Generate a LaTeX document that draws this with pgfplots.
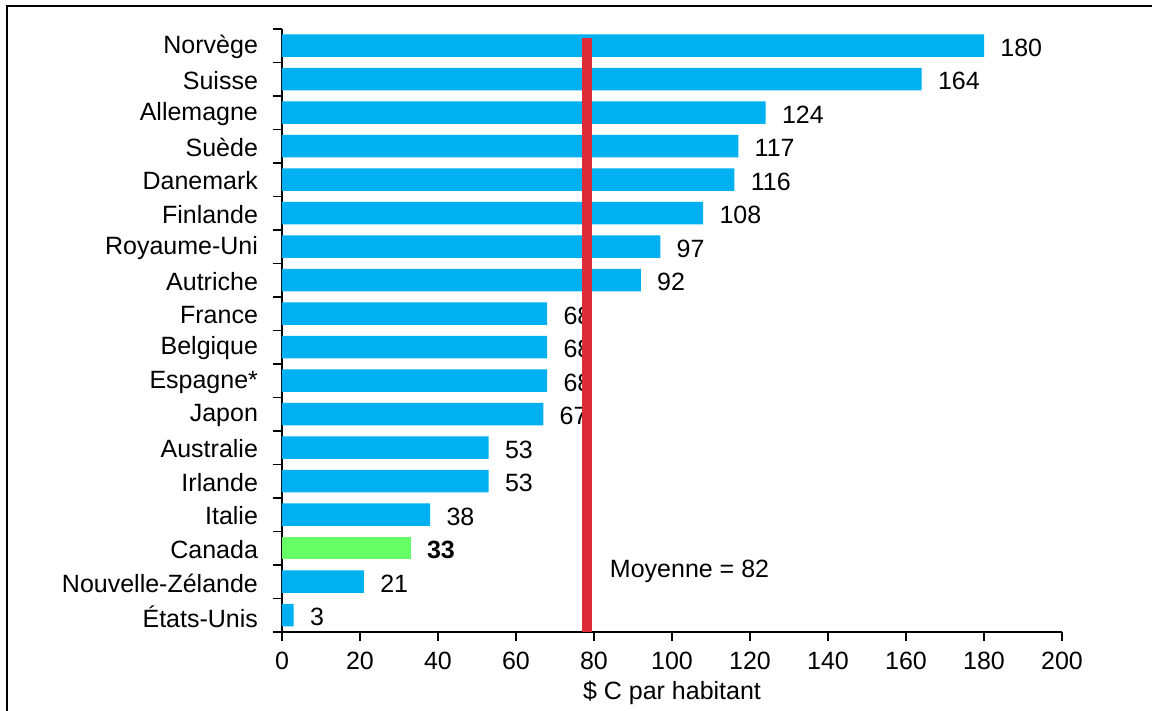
\documentclass[border=0pt]{standalone}
\usepackage{fontspec}
\setmainfont{Liberation Sans}
\usepackage{pgfplots}
\pgfplotsset{compat=1.18}
\definecolor{barblue}{HTML}{00B0F0}
\definecolor{bargreen}{HTML}{66FF66}
\definecolor{avgred}{HTML}{DC2C38}
\newcommand{\cf}{\fontsize{12.5}{14}\selectfont}
\begin{document}
\begin{tikzpicture}[x=1pt,y=1pt]
\useasboundingbox (-141,-39.5) rectangle (435,316);
\draw[line width=1.2pt] (-137.5,-60) -- (-137.5,313) -- (470,313);
\pgfplotsset{myax/.style={
  at={(0,0)}, anchor=south west, scale only axis, width=390pt, height=301.5pt,
  xmin=0, xmax=200, ymin=-0.5, ymax=17.5,
}}
\begin{axis}[myax,
  axis lines=left, axis line style={-, line width=0.8pt},
  tick align=outside, major tick length=4.5pt,
  tick style={black, line width=0.8pt},
  xtick={0,20,...,200},
  ytick={-0.5,0.5,...,17.5},
  yticklabels={,États-Unis,Nouvelle-Zélande,Canada,Italie,Irlande,Australie,Japon,Espagne*,Belgique,France,Autriche,Royaume-Uni,Finlande,Danemark,Suède,Allemagne,Suisse,Norvège},
  yticklabel style={font=\cf, yshift=-9pt, xshift=-4pt},
  xticklabel style={font=\cf, yshift=-2pt},
  /pgf/number format/assume math mode=true,
  xlabel={\$ C par habitant}, xlabel style={font=\cf, yshift=1pt},
  xbar, bar width=11.25pt, bar shift=0pt,
  nodes near coords,
  nodes near coords style={anchor=west, inner sep=0pt, xshift=8pt, yshift=-1pt, font=\cf, black},
  clip=false,
]
\addplot[fill=barblue, draw=none] coordinates {
(180,17) (164,16) (124,15) (117,14) (116,13) (108,12) (97,11) (92,10)
(68,9) (68,8) (68,7) (67,6) (53,5) (53,4) (38,3) (21,1) (3,0)};
\addplot[fill=bargreen, draw=none, nodes near coords style={font=\cf\bfseries}] coordinates {(33,2)};
\node[anchor=west, font=\cf, inner sep=0pt] at (axis cs:84,1.32) {Moyenne = 82};
\end{axis}
\begin{axis}[myax, hide axis]
\addplot[avgred, line width=5pt] coordinates {(78.2,-0.5) (78.2,17.23)};
\end{axis}
\end{tikzpicture}
\end{document}
